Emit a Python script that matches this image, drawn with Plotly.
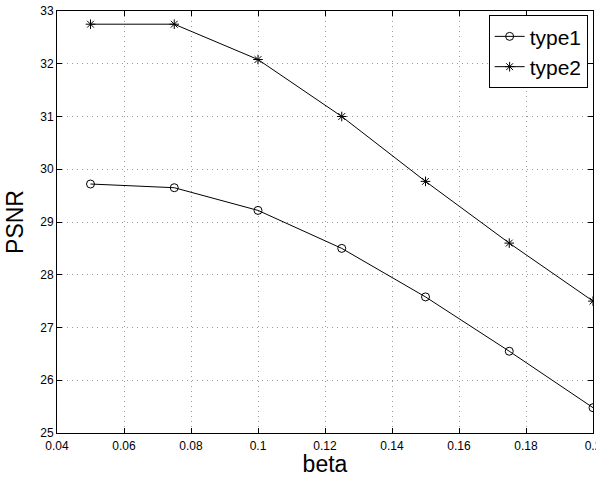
import plotly.graph_objects as go

beta = [0.05, 0.075, 0.1, 0.125, 0.15, 0.175, 0.2]
type1 = [29.72, 29.65, 29.22, 28.50, 27.58, 26.55, 25.48]
type2 = [32.75, 32.75, 32.08, 31.00, 29.77, 28.60, 27.50]
xticks = [0.04, 0.06, 0.08, 0.1, 0.12, 0.14, 0.16, 0.18, 0.2]
yticks = [25, 26, 27, 28, 29, 30, 31, 32, 33]

fig = go.Figure()
fig.add_trace(go.Scatter(x=beta, y=type1, name="type1", mode="lines+markers",
                         line=dict(color="black", width=1),
                         marker=dict(symbol="circle-open", size=8, color="black", line=dict(width=1))))
fig.add_trace(go.Scatter(x=beta, y=type2, name="type2", mode="lines+markers",
                         line=dict(color="black", width=1),
                         marker=dict(symbol="asterisk-open", size=8, color="black", line=dict(width=1))))

axis_common = dict(showline=True, linecolor="black", linewidth=1, mirror="ticks",
                   ticks="inside", ticklen=5, tickcolor="black",
                   showgrid=True, gridcolor="#9a9a9a", griddash="1px,4px", gridwidth=1,
                   zeroline=False, ticklabeloverflow="allow", automargin=False,
                   tickfont=dict(family="Liberation Sans, Arial", size=12, color="black"))

fig.update_layout(
    width=596, height=477,
    margin=dict(l=57, r=3, t=11, b=44),
    paper_bgcolor="white", plot_bgcolor="white",
    font=dict(family="Liberation Sans, Arial", color="black"),
    xaxis=dict(range=[0.04, 0.2], tickvals=xticks, ticktext=[str(t) for t in xticks],
               ticklabelstandoff=2,
               title=dict(text="beta", font=dict(size=23), standoff=5), **axis_common),
    yaxis=dict(range=[25, 33], tickvals=yticks, ticktext=[str(t) for t in yticks],
               title=dict(text="PSNR", font=dict(size=23), standoff=10), **axis_common),
    legend=dict(x=0.99, y=0.99, xanchor="right", yanchor="top",
                bordercolor="black", borderwidth=1, bgcolor="white",
                font=dict(size=21), tracegroupgap=0),
    showlegend=True,
)
fig.write_html("out.html")
